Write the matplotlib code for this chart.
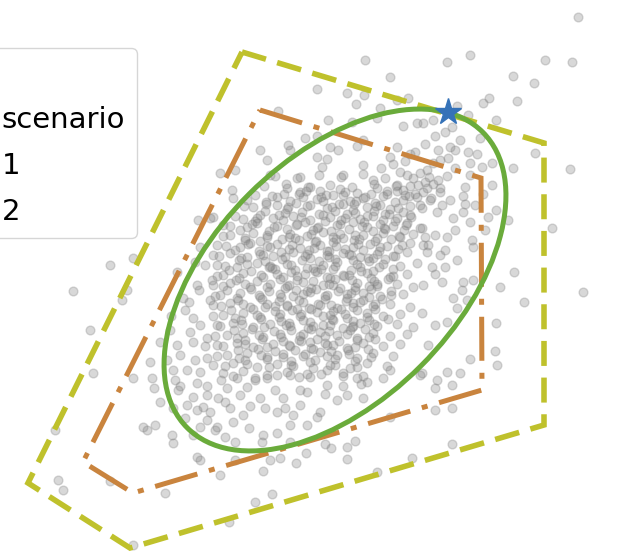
import numpy as np
import matplotlib.pyplot as plt
from matplotlib.patches import Ellipse, Polygon
from matplotlib.lines import Line2D

# ---------------------------------------------------------------- data
# sparse samples around the cloud
outer_pts = [
    (3.0, 22.0), (5.5, 20.3), (-1.8, 19.1), (1.2, 18.7), (2.9, 18.5), (2.1, 17.6), (6.2, 18.0),
    (7.3, 18.2), (4.5, 17.2), (-5.7, 16.9), (-0.7, 16.0), (1.7, 15.8), (4.2, 16.2), (6.8, 15.4),
    (8.2, 15.7), (-3.0, 14.2), (-1.8, 14.4), (-4.7, 13.5), (-4.5, 13.0), (-7.5, 13.0), (-6.8, 12.0),
    (-0.5, 13.3), (0.3, 13.0), (2.2, 13.4), (2.8, 14.0), (5.5, 12.3), (6.2, 13.3), (7.5, 12.6),
    (2.8, 11.5), (-1.8, 12.3), (-0.8, 12.1), (-11.5, 10.7), (-10.0, 11.0), (-6.5, 10.5), (-3.5, 10.3),
    (-1.3, 11.3), (0.8, 10.5), (3.8, 10.0), (6.5, 10.8), (8.5, 10.7), (6.2, 9.5),
    (24.3, 26.3), (13.5, 22.5), (11.2, 21.8), (21.0, 22.0), (23.7, 21.8), (17.8, 20.4), (19.9, 19.7),
    (15.4, 18.2), (14.8, 17.7), (18.2, 17.9), (12.2, 17.4), (13.3, 16.5), (16.1, 16.0), (9.8, 16.0),
    (11.7, 15.3), (14.5, 14.2), (8.8, 15.7), (20.0, 12.7), (10.3, 13.0), (11.5, 13.3), (13.3, 12.8),
    (11.3, 12.2), (13.5, 11.7), (14.7, 11.3), (15.7, 11.7), (17.8, 11.2), (23.5, 11.1), (9.8, 11.7),
    (9.0, 9.8), (10.3, 10.0), (13.0, 9.3), (15.7, 9.5),
    (-22.5, 1.5), (-26.2, -1.1), (-20.2, 2.2), (-20.8, -1.0), (-21.3, -2.0), (-24.5, -5.0),
    (-13.7, 6.0), (-12.5, 6.2), (-15.8, 0.8), (-13.8, -0.5), (-13.5, 3.3), (-17.5, -6.2),
    (-18.5, -8.2), (-16.2, -9.0), (-14.2, -3.8), (-13.5, -4.5), (-14.5, -5.2), (-12.8, -5.8),
    (-14.2, -6.2), (-12.8, -7.8), (-13.5, -9.2), (-13.0, 1.5), (-12.5, -2.0), (-12.3, 0.0),
    (-15.0, -3.0), (-16.5, -5.0), (-15.5, -7.5), (-14.8, -9.0), (-16.8, -8.0), (-15.2, -1.8), (-14.0, 1.8),
    (-24.2, -9.3), (-20.2, -9.8), (-18.3, -9.8), (-18.1, -10.8), (-17.5, -12.2), (-16.0, -10.0),
    (-15.7, -11.0), (-14.8, -12.5), (-14.2, -11.7), (-13.2, -12.7), (-13.8, -10.3), (-12.8, -11.5),
    (-28.0, -15.0), (-19.2, -14.7), (-18.8, -15.0), (-18.0, -14.5), (-16.3, -15.5), (-16.2, -16.3),
    (-13.8, -17.7), (-13.5, -18.0), (-12.8, -14.0), (-13.5, -14.7), (-27.7, -20.0), (-27.2, -21.0),
    (-22.5, -20.1), (-17.0, -21.3), (-20.2, -26.5),
    (-11.5, -19.5), (-10.0, -18.0), (-7.2, -19.1), (-6.5, -18.0), (-5.5, -17.8), (-3.9, -18.3),
    (-2.9, -17.3), (-8.0, -22.2), (-6.3, -21.4), (-10.6, -24.2), (-1.0, -16.4), (-0.4, -16.8),
    (1.2, -16.7), (1.2, -17.9), (2.0, -16.1), (4.2, -19.2), (5.5, -13.7), (7.7, -17.8), (-1.8, -13.7),
    (-4.5, -14.5), (-5.8, -15.3), (-7.2, -15.5), (-7.3, -16.2), (-11.0, -15.7), (-11.8, -14.7),
    (-2.8, -14.5), (-4.5, -16.2), (-2.8, -11.2), (0.2, -12.0), (1.2, -11.5), (2.8, -11.8), (3.2, -10.2),
    (4.8, -9.8), (5.5, -9.0), (8.5, -9.5), (-10.8, -10.8), (-8.8, -10.7), (-7.5, -11.8), (-9.2, -13.5),
    (-10.5, -12.8), (-11.7, -11.8), (-5.8, -13.2), (-4.2, -13.5), (-3.5, -12.5), (-1.5, -13.2),
    (-5.2, -11.8), (-6.8, -9.8), (-4.5, -9.5), (-2.5, -9.7), (-0.8, -10.5), (2.2, -9.8),
    (11.2, -9.2), (12.5, -9.3), (10.2, -10.0), (10.0, -10.8), (11.7, -10.5), (10.0, -13.0),
    (11.7, -12.8), (11.7, -16.4), (16.2, -8.5), (8.7, -9.3),
    (21.7, 5.2), (24.8, -1.2), (17.9, 0.8), (16.5, -0.7), (18.9, -2.2), (16.1, -4.3), (16.0, -7.1),
    (13.5, -7.9), (17.3, 6.0), (16.1, 7.0), (15.3, 6.3), (14.0, 7.5), (13.5, 5.8), (13.8, 3.3),
    (13.7, 4.0), (12.8, -0.2), (13.8, 0.0), (12.7, -1.0), (13.2, -2.0), (12.2, -2.8), (11.2, -4.2),
    (10.0, -4.5), (9.3, -6.5), (11.0, 1.3), (9.7, 1.3), (10.7, -0.2), (8.7, -3.3), (8.8, -0.5),
    (10.0, 4.5), (11.2, 4.3), (9.3, 3.5), (10.5, 2.5), (11.8, 6.2), (10.7, 7.5), (12.8, 6.8),
    (9.5, 8.0), (10.5, 8.8), (9.2, 9.2), (8.7, 5.2), (9.2, 2.8), (9.0, 4.3),
]

# the two tips of the ellipse (upper right, lower left)
lobe_pts = [
    (4.6, 11.2), (5.8, 11.6), (7.0, 11.9), (8.0, 12.8), (9.0, 13.6), (10.0, 14.4), (11.0, 14.8),
    (12.5, 14.0), (12.0, 13.0), (10.5, 12.0), (9.2, 11.0), (7.8, 10.2), (6.8, 9.0), (8.0, 8.6),
    (9.8, 9.6), (11.2, 10.4), (12.0, 11.2), (13.5, 10.5), (14.2, 12.6), (12.8, 8.4), (11.5, 8.0),
    (10.2, 6.8), (12.0, 5.0), (13.0, 7.6), (14.8, 8.6), (15.0, 5.0), (11.0, 3.0), (12.2, 2.0),
    (10.0, 0.6), (11.8, -1.8),
    (-8.0, -10.0), (-9.5, -11.5), (-11.0, -12.2), (-12.5, -13.2), (-13.8, -13.0), (-15.0, -13.8),
    (-14.2, -15.5), (-12.0, -15.0), (-10.2, -14.2), (-8.5, -12.6), (-7.0, -12.8), (-6.0, -11.0),
    (-9.8, -9.8), (-11.4, -10.0), (-12.8, -10.6), (-15.5, -10.6), (-16.2, -12.8), (-14.0, -8.0),
    (-13.0, -6.6), (-15.8, -6.5), (-14.6, -2.2), (-13.6, -1.0), (-16.4, -3.6), (-10.0, -16.2),
    (-8.6, -14.8), (-5.0, -12.8), (-3.5, -11.0), (-1.0, -11.4), (0.8, -10.6), (2.6, -10.4),
]

# dense core inside the ellipse
core_pts = [
    (-10.3, 9.0), (-4.8, 9.2), (-3.5, 8.8), (-2.5, 9.3), (-1.5, 8.9), (0.5, 9.1), (2.2, 8.7), (4.2, 9.2),
    (6.2, 8.9), (7.5, 9.4), (8.8, 8.8),
    (-10.2, 8.2), (-8.8, 8.0), (-6.3, 8.4), (-4.5, 7.9), (-3.2, 8.3), (-1.8, 8.1), (-0.2, 8.5), (1.5, 7.9),
    (2.8, 8.2), (4.8, 8.4), (6.8, 8.0), (8.2, 8.3),
    (-8.2, 7.3), (-5.8, 7.5), (-4.8, 7.1), (-2.8, 7.4), (-0.8, 7.2), (0.8, 7.6), (1.8, 7.0), (3.2, 7.3),
    (4.5, 7.5), (5.5, 7.1), (7.5, 7.4), (8.7, 7.2),
    (-12.2, 6.3), (-9.2, 6.1), (-7.5, 6.5), (-6.2, 6.2), (-4.2, 6.4), (-2.5, 6.0), (-0.5, 6.3), (1.2, 6.6),
    (2.5, 6.1), (3.8, 6.4), (6.2, 6.2), (7.5, 6.5),
    (-11.2, 5.5), (-8.8, 5.3), (-7.8, 5.7), (-5.8, 5.4), (-3.8, 5.6), (-1.8, 5.2), (0.2, 5.5), (1.8, 5.8),
    (3.2, 5.3), (4.5, 5.6), (5.8, 5.4), (7.2, 5.7), (8.5, 5.2),
    (-10.5, 4.5), (-8.2, 4.7), (-6.8, 4.3), (-4.5, 4.6), (-2.8, 4.4), (-1.2, 4.8), (0.8, 4.2), (2.8, 4.5),
    (4.8, 4.7), (6.5, 4.3), (7.8, 4.6),
    (-11.8, 3.5), (-9.5, 3.3), (-8.5, 3.7), (-6.8, 3.4), (-5.8, 3.6), (-3.5, 3.2), (-1.5, 3.5), (-0.2, 3.8),
    (1.8, 3.3), (3.5, 3.6), (5.2, 3.4), (7.5, 3.7), (8.8, 3.5),
    (-12.2, 2.5), (-10.5, 2.7), (-8.8, 2.3), (-7.5, 2.6), (-6.2, 2.4), (-4.2, 2.8), (-2.5, 2.2), (-0.8, 2.5),
    (0.8, 2.7), (2.5, 2.3), (4.2, 2.6), (5.8, 2.4), (7.2, 2.8),
    (-11.8, 1.5), (-9.8, 1.3), (-7.8, 1.7), (-6.5, 1.4), (-4.8, 1.6), (-2.8, 1.2), (-1.2, 1.5), (0.2, 1.8),
    (2.5, 1.3), (4.8, 1.6), (6.5, 1.4), (8.2, 1.7),
    (-11.2, 0.5), (-9.2, 0.7), (-7.2, 0.3), (-5.8, 0.6), (-3.8, 0.4), (-1.8, 0.8), (-0.5, 0.2), (0.8, 0.5),
    (3.2, 0.7), (5.5, 0.3), (7.2, 0.6),
    (-12.2, -0.5), (-10.5, -0.3), (-8.5, -0.7), (-6.5, -0.4), (-4.8, -0.6), (-3.2, -0.2), (-1.2, -0.5),
    (0.5, -0.8), (2.2, -0.3), (4.2, -0.6), (6.2, -0.4), (7.8, -0.7),
    (-11.5, -1.5), (-9.5, -1.3), (-7.5, -1.7), (-5.5, -1.4), (-4.2, -1.6), (-2.5, -1.2), (-0.8, -1.5),
    (1.2, -1.8), (2.8, -1.3), (4.5, -1.6), (6.8, -1.4),
    (-12.2, -2.5), (-10.5, -2.3), (-8.5, -2.7), (-6.8, -2.4), (-4.8, -2.6), (-3.2, -2.2), (-1.5, -2.5),
    (0.2, -2.8), (1.8, -2.3), (3.8, -2.6), (5.5, -2.4), (7.5, -2.7),
    (-11.2, -3.5), (-9.2, -3.3), (-7.5, -3.7), (-5.5, -3.4), (-3.5, -3.6), (-1.8, -3.2), (-0.5, -3.5),
    (1.2, -3.8), (3.2, -3.3), (4.8, -3.6), (6.5, -3.4),
    (-11.8, -4.5), (-10.2, -4.3), (-8.2, -4.7), (-6.5, -4.4), (-4.5, -4.6), (-2.5, -4.2), (-1.2, -4.5),
    (0.8, -4.8), (2.5, -4.3), (4.2, -4.6), (6.2, -4.4), (7.8, -4.7),
    (-10.8, -5.5), (-9.2, -5.3), (-7.2, -5.7), (-5.5, -5.4), (-3.5, -5.6), (-1.5, -5.2), (0.2, -5.5),
    (2.2, -5.8), (3.8, -5.3), (5.5, -5.6), (7.2, -5.4),
    (-11.8, -6.5), (-9.8, -6.3), (-8.2, -6.7), (-6.2, -6.4), (-4.5, -6.6), (-2.5, -6.2), (-0.8, -6.5),
    (1.2, -6.8), (2.8, -6.3), (4.8, -6.6), (6.5, -6.4),
    (-10.8, -7.5), (-8.8, -7.3), (-6.8, -7.7), (-5.2, -7.4), (-3.2, -7.6), (-1.5, -7.2), (0.2, -7.5),
    (2.2, -7.8), (3.8, -7.3), (5.8, -7.6),
    (-12.2, -8.5), (-10.2, -8.3), (-7.8, -8.7), (-5.8, -8.4), (-4.2, -8.6), (-2.5, -8.2), (-0.5, -8.5),
    (1.5, -8.8), (3.2, -8.3), (5.2, -8.6),
    (-11.2, -9.3), (-9.2, -9.1), (-6.8, -9.5), (-4.8, -9.2), (-2.8, -9.4), (-0.8, -9.0), (0.8, -9.3),
    (2.8, -9.6),
]

# overlapping samples that make the middle of the cloud darker
dense_pts = [
    (-5.1, 8.6), (-2.9, 8.9), (-0.9, 8.5), (1.0, 8.8), (3.6, 8.6), (5.2, 8.9), (7.0, 8.5),
    (-6.9, 7.8), (-3.9, 7.7), (-1.2, 7.9), (0.4, 7.6), (2.1, 7.9), (4.0, 7.7), (6.0, 7.8),
    (-7.0, 6.9), (-5.0, 6.7), (-3.3, 6.8), (-1.6, 6.6), (0.0, 6.9), (2.0, 6.7), (3.9, 6.9), (5.0, 6.6),
    (6.8, 6.8),
    (-8.0, 5.9), (-5.2, 6.0), (-3.0, 5.8), (-1.0, 5.9), (0.6, 6.0), (2.9, 5.8), (4.8, 6.0), (6.0, 5.9),
    (-9.5, 5.0), (-6.6, 4.9), (-4.8, 5.1), (-2.2, 5.0), (-0.4, 4.9), (1.4, 5.1), (3.8, 4.9), (5.0, 5.1),
    (6.9, 5.0),
    (-9.0, 4.0), (-7.5, 3.9), (-5.3, 4.1), (-3.6, 4.0), (-1.9, 3.9), (0.1, 4.1), (1.9, 4.0), (4.0, 3.9),
    (5.6, 4.1),
    (-10.0, 3.0), (-7.6, 2.9), (-4.6, 3.1), (-2.6, 3.0), (-0.6, 2.9), (1.0, 3.1), (2.8, 3.0), (4.4, 2.9),
    (6.3, 3.1),
    (-9.6, 2.0), (-7.0, 1.9), (-5.3, 2.1), (-3.3, 2.0), (-1.6, 1.9), (0.0, 2.1), (1.8, 2.0), (3.4, 1.9),
    (5.0, 2.1),
    (-10.6, 1.0), (-8.4, 0.9), (-6.0, 1.1), (-4.0, 1.0), (-2.0, 0.9), (-0.2, 1.1), (1.6, 1.0), (3.8, 0.9),
    (5.8, 1.1),
    (-9.9, 0.0), (-7.8, -0.1), (-5.5, 0.1), (-3.8, 0.0), (-2.2, -0.1), (0.0, 0.1), (1.7, 0.0), (3.9, -0.1),
    (5.3, 0.1),
    (-10.8, -1.0), (-8.4, -0.9), (-6.6, -1.1), (-3.9, -1.0), (-1.9, -0.9), (0.3, -1.1), (2.0, -1.0),
    (3.6, -0.9), (5.6, -1.1),
    (-9.7, -2.0), (-7.3, -1.9), (-5.6, -2.1), (-3.6, -2.0), (-1.0, -1.9), (1.1, -2.1), (2.8, -2.0),
    (4.7, -1.9),
    (-10.4, -3.0), (-8.2, -2.9), (-6.0, -3.1), (-4.3, -3.0), (-2.4, -2.9), (-0.2, -3.1), (2.2, -3.0),
    (4.0, -2.9),
    (-9.4, -4.0), (-7.4, -3.9), (-5.4, -4.1), (-3.2, -4.0), (-0.3, -3.9), (1.8, -4.1), (3.4, -4.0),
    (5.3, -3.9),
    (-10.1, -5.0), (-8.3, -4.9), (-6.1, -5.1), (-4.4, -5.0), (-2.4, -4.9), (-0.6, -5.1), (1.5, -5.0),
    (3.0, -4.9),
    (-9.0, -6.0), (-7.3, -5.9), (-5.2, -6.1), (-3.6, -6.0), (-1.8, -5.9), (0.4, -6.1), (2.2, -6.0),
    (4.0, -5.9),
    (-9.7, -7.0), (-7.7, -6.9), (-6.0, -7.1), (-4.0, -7.0), (-2.2, -6.9), (-0.4, -7.1), (1.3, -7.0),
    (3.3, -6.9),
    (-9.0, -8.0), (-6.8, -7.9), (-4.4, -8.1), (-2.0, -8.0), (0.0, -7.9), (2.0, -8.1),
    (-4.0, 4.2), (-2.0, 3.8), (0.5, 4.6), (2.4, 4.1), (-5.4, 2.8), (-3.0, 2.4), (-0.8, 2.9), (1.4, 2.6),
    (3.3, 2.2), (-6.3, 1.2), (-4.4, 0.8), (-1.4, 1.1), (0.9, 0.4), (2.6, 0.9), (-5.0, -0.8), (-2.8, -1.1),
    (-0.6, -0.4), (1.6, -1.3), (3.4, -0.6), (-6.0, -2.6), (-3.8, -2.9), (-1.7, -2.4), (0.6, -2.9),
    (2.5, -2.2), (-4.6, -4.3), (-2.2, -4.6), (-0.2, -4.0), (1.8, -4.6), (-3.4, -6.1), (-1.0, -6.3),
    (-6.0, 10.4), (-3.8, 10.2), (-1.6, 10.5), (0.6, 10.3), (2.8, 10.6), (5.0, 10.2), (7.2, 10.5),
    (9.4, 10.3),
    (-7.1, 9.4), (-4.9, 9.6), (-2.7, 9.3), (-0.5, 9.5), (1.7, 9.3), (3.9, 9.6), (6.1, 9.4), (8.3, 9.5),
    (10.5, 9.2),
    (-8.0, 8.5), (-5.8, 8.3), (-3.6, 8.6), (-1.4, 8.3), (0.8, 8.5), (3.0, 8.3), (5.2, 8.6), (7.4, 8.4),
    (9.6, 8.2),
    (-9.1, 7.4), (-6.9, 7.6), (-4.7, 7.3), (-2.5, 7.5), (-0.3, 7.3), (1.9, 7.6), (4.1, 7.4), (6.3, 7.2),
    (8.5, 7.5),
    (-10.0, 6.4), (-7.8, 6.2), (-5.6, 6.5), (-3.4, 6.3), (-1.2, 6.5), (1.0, 6.2), (3.2, 6.4), (5.4, 6.6),
    (7.6, 6.3),
    (-10.5, 5.4), (-8.3, 5.6), (-6.1, 5.3), (-3.9, 5.5), (-1.7, 5.3), (0.5, 5.6), (2.7, 5.4), (4.9, 5.2),
    (7.1, 5.5),
    (-11.2, 4.4), (-9.0, 4.2), (-6.8, 4.5), (-4.6, 4.3), (-2.4, 4.6), (-0.2, 4.3), (2.0, 4.5), (4.2, 4.2),
    (6.4, 4.4),
    (-10.9, 3.4), (-8.7, 3.6), (-6.5, 3.3), (-4.3, 3.5), (-2.1, 3.2), (0.1, 3.4), (2.3, 3.6), (4.5, 3.3),
    (6.7, 3.5),
    (-11.6, 2.4), (-9.4, 2.2), (-7.2, 2.5), (-5.0, 2.3), (-2.8, 2.6), (-0.6, 2.3), (1.6, 2.5), (3.8, 2.2),
    (6.0, 2.4),
    (-11.0, 1.4), (-8.8, 1.6), (-6.6, 1.3), (-4.4, 1.5), (-2.2, 1.2), (0.0, 1.4), (2.2, 1.6), (4.4, 1.3),
    (-11.8, 0.4), (-9.6, 0.2), (-7.4, 0.5), (-5.2, 0.3), (-3.0, 0.6), (-0.8, 0.3), (1.4, 0.5), (3.6, 0.2),
    (5.8, 0.4),
    (-11.2, -0.6), (-9.0, -0.4), (-6.8, -0.7), (-4.6, -0.5), (-2.4, -0.8), (-0.2, -0.5), (2.0, -0.7),
    (4.2, -0.4),
    (-12.0, -1.6), (-9.8, -1.8), (-7.6, -1.5), (-5.4, -1.7), (-3.2, -1.4), (-1.0, -1.6), (1.2, -1.4),
    (3.4, -1.7), (5.6, -1.5),
    (-11.4, -2.6), (-9.2, -2.4), (-7.0, -2.7), (-4.8, -2.5), (-2.6, -2.8), (-0.4, -2.5), (1.8, -2.7),
    (4.0, -2.4),
    (-12.2, -3.6), (-10.0, -3.8), (-7.8, -3.5), (-5.6, -3.7), (-3.4, -3.4), (-1.2, -3.6), (1.0, -3.4),
    (3.2, -3.7),
    (-11.5, -4.6), (-9.3, -4.4), (-7.1, -4.7), (-4.9, -4.5), (-2.7, -4.8), (-0.5, -4.5), (1.7, -4.7),
    (3.9, -4.4),
    (-12.0, -5.6), (-9.8, -5.8), (-7.6, -5.5), (-5.4, -5.7), (-3.2, -5.4), (-1.0, -5.6), (1.2, -5.4),
    (3.4, -5.7),
    (-11.2, -6.6), (-9.0, -6.4), (-6.8, -6.7), (-4.6, -6.5), (-2.4, -6.8), (-0.2, -6.5), (2.0, -6.7),
    (-11.8, -7.6), (-9.6, -7.8), (-7.4, -7.5), (-5.2, -7.7), (-3.0, -7.4), (-0.8, -7.6), (1.4, -7.4),
    (3.6, -7.7),
    (-11.0, -8.6), (-8.8, -8.4), (-6.6, -8.7), (-4.4, -8.5), (-2.2, -8.8), (0.0, -8.5), (2.2, -8.7),
    (-10.2, -9.6), (-8.0, -9.8), (-5.8, -9.5), (-3.6, -9.7), (-1.4, -9.4), (0.8, -9.6),
]

# uncertainty sets
ell_center = (0.0, 0.0)
ell_width = 41.8
ell_height = 24.3
ell_angle = 45

set1_x = [-9.3, 20.9, 20.9, -20.5, -30.7]
set1_y = [22.8, 13.7, -14.5, -26.8, -20.3]
set2_x = [-7.5, 14.6, 14.7, -20.2, -25.2]
set2_y = [17.0, 10.2, -11.0, -21.3, -18.2]

worst_x = [11.3]
worst_y = [16.8]

legend_labels = ['scenario', '1', '2']

c_set1 = '#bfc12c'
c_set2 = '#c9843e'
c_ell = '#6aab3b'
c_star = '#3572b8'

# ---------------------------------------------------------------- plot
fig = plt.figure(figsize=(6.31, 5.53), dpi=100)
ax = fig.add_axes([0, 0, 1, 1])

pts = np.array(outer_pts + lobe_pts + core_pts + dense_pts)
ax.scatter(pts[:, 0], pts[:, 1], s=40, c='gray', alpha=0.3, linewidths=1, zorder=1)

ax.add_patch(Polygon(np.column_stack([set1_x, set1_y]), closed=True, fill=False,
                     edgecolor=c_set1, lw=4, linestyle=(0, (4.5, 2.1)), joinstyle='miter', zorder=2))
ax.add_patch(Polygon(np.column_stack([set2_x, set2_y]), closed=True, fill=False,
                     edgecolor=c_set2, lw=3.6, linestyle=(0, (8.8, 2.4, 1.2, 2.4)), joinstyle='miter',
                     zorder=2))
ax.add_patch(Ellipse(ell_center, ell_width, ell_height, angle=ell_angle, fill=False,
                     edgecolor=c_ell, lw=3.6, zorder=3))
ax.plot(worst_x, worst_y, ls='none', marker='*', ms=20, color=c_star, zorder=4)

ax.set_xlim(-33.5, 29.6)
ax.set_ylim(-27.3, 28.0)
ax.axis('off')

handles = [Line2D([], [], ls='none', marker='*', ms=14, color=c_star),
           Line2D([], [], color=c_set1, lw=3, ls='--'),
           Line2D([], [], color=c_set2, lw=3, ls='-.')]
fig.legend(handles, legend_labels, title=' ', loc='upper right',
           bbox_to_anchor=(137 / 631, 1 - 48 / 553), borderaxespad=0,
           fontsize=21, title_fontsize=21, labelspacing=0.62, handlelength=3)

plt.savefig('out.png', dpi=100)
